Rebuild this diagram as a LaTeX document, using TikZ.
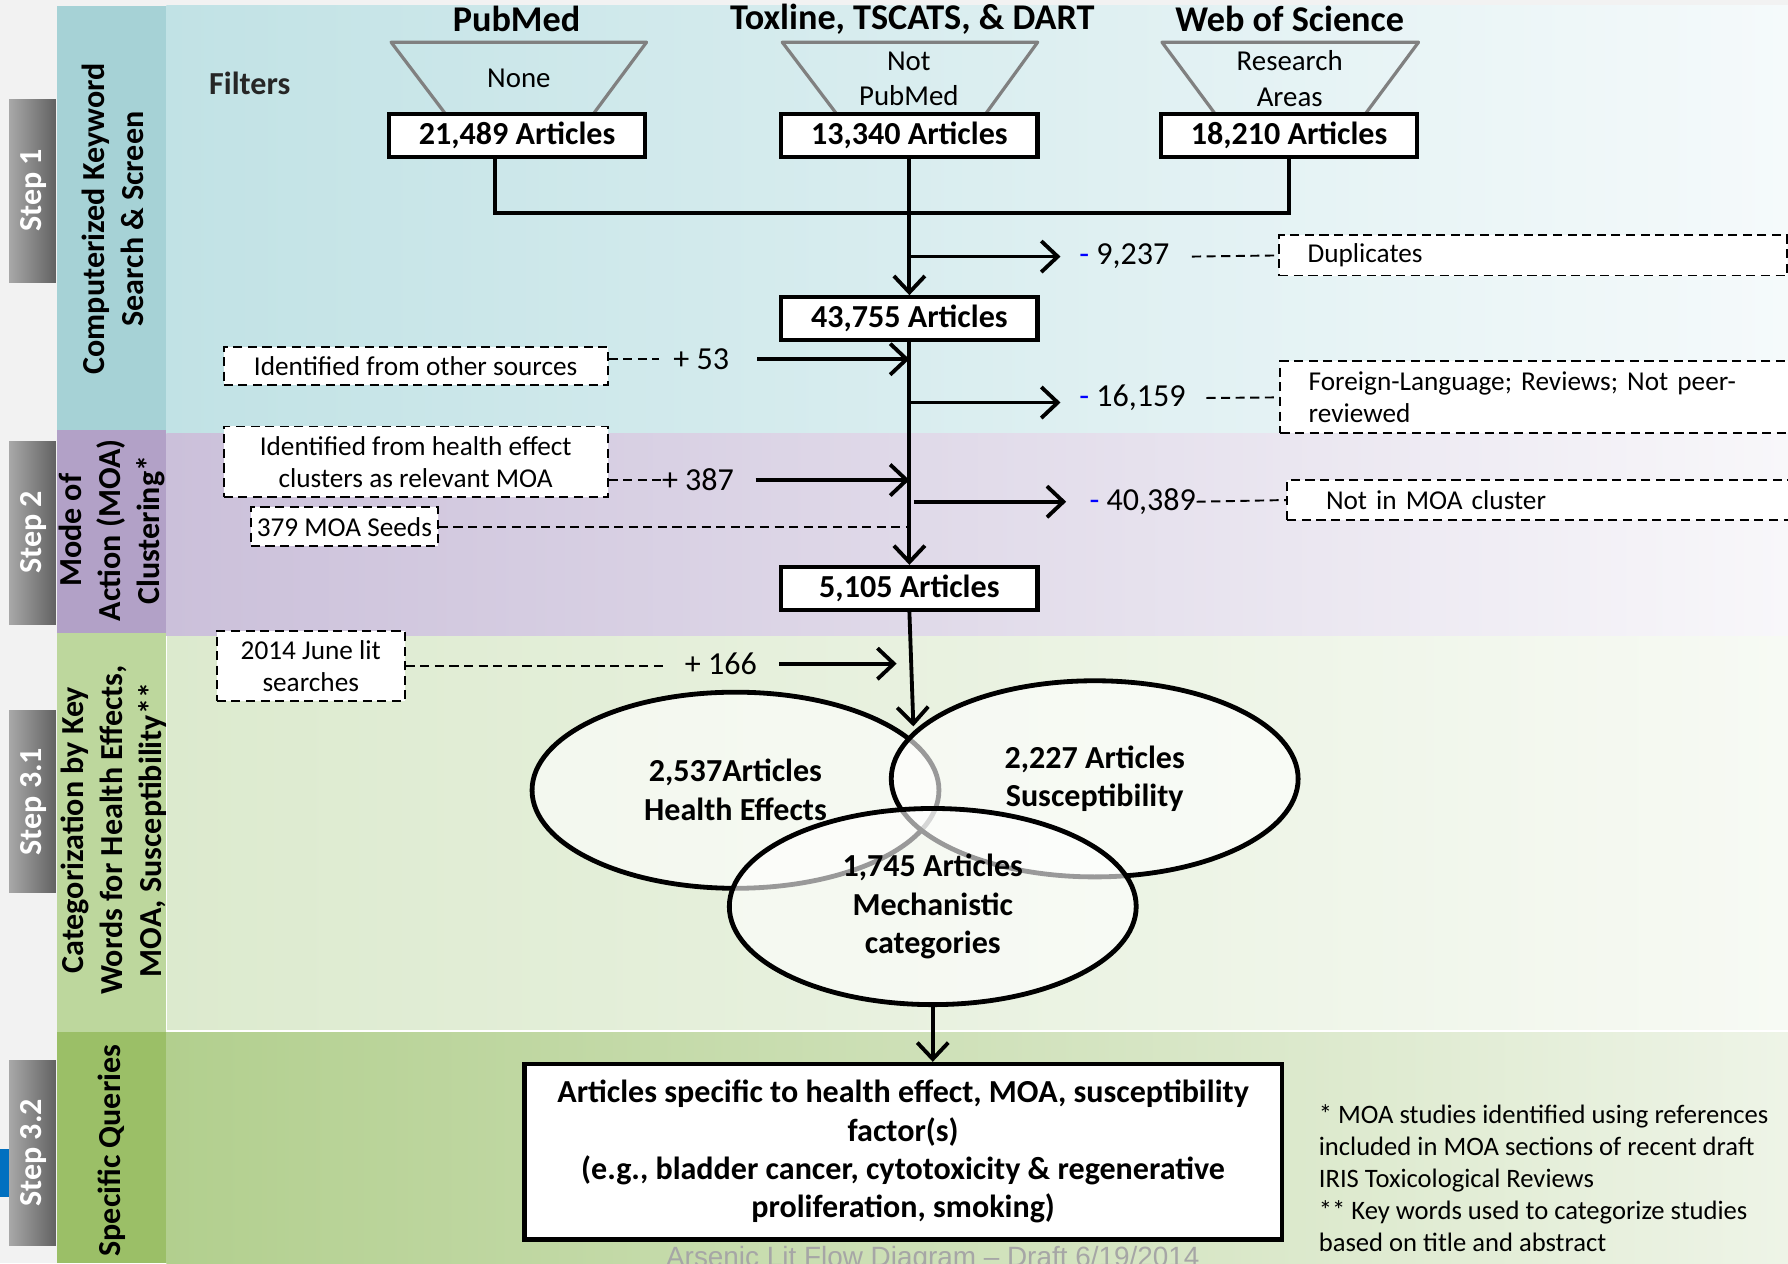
\documentclass[tikz,border=0pt]{standalone}
\usepackage{fontspec}
\setmainfont{Carlito}
\newfontfamily\markfont{Liberation Sans}
\usepackage{xcolor}
\definecolor{PageGrey}{HTML}{F2F2F2}
\definecolor{TealSide}{HTML}{A6D2D6}
\definecolor{TealBand}{HTML}{C1E2E5}
\definecolor{TealFade}{HTML}{F5FAFB}
\definecolor{LilacSide}{HTML}{B2A1C7}
\definecolor{LilacBand}{HTML}{CBC0DA}
\definecolor{LilacFade}{HTML}{F8F7FA}
\definecolor{SageSide}{HTML}{BDD79D}
\definecolor{SageBand}{HTML}{DCEACE}
\definecolor{SageFade}{HTML}{F7FAF4}
\definecolor{MossSide}{HTML}{9BBF67}
\definecolor{MossBand}{HTML}{B2CF8E}
\definecolor{MossFade}{HTML}{EEF4E7}
\definecolor{TabLight}{HTML}{A8A8A8}
\definecolor{TabDark}{HTML}{626262}
\definecolor{FunnelGrey}{HTML}{808080}
\definecolor{SlideBlue}{HTML}{0070C0}
\usepackage{tikz}
\usetikzlibrary{positioning,calc,shapes.geometric,arrows.meta}

\begin{document}
\begin{tikzpicture}[x=0.125mm, y=-0.125mm,
  countbox/.style={draw=black, line width=1.3pt, fill=white, minimum width=28.1mm,
    minimum height=4.7mm, inner sep=0pt, font=\fontsize{10}{12}\selectfont\bfseries},
  notebox/.style={draw=black, dash pattern=on 1mm off 0.6mm, line width=0.6pt, fill=white,
    inner sep=0pt, align=center, font=\fontsize{8.5}{10}\selectfont},
  flow/.style={line width=1.2pt},
  flowto/.style={flow, -{Straight Barb[length=1.8mm,width=3.4mm]}},
  dashline/.style={dash pattern=on 1mm off 0.6mm, line width=0.6pt},
  tally/.style={inner sep=0pt, font=\fontsize{10}{12}\selectfont},
  venn/.style={ellipse, draw=black, line width=1.5pt, fill=white, fill opacity=0.6,
    text opacity=1, minimum width=44.6mm, minimum height=21.5mm, inner sep=0pt,
    align=center, font=\fontsize{10}{12.1}\selectfont\bfseries},
  funnel/.style={draw=FunnelGrey, line width=1pt, line join=round},
  sidelabel/.style={rotate=90, align=center, font=\fontsize{10}{12.1}\selectfont\bfseries},
  steplabel/.style={rotate=90, white, font=\fontsize{10}{12}\selectfont\bfseries},
  srcname/.style={font=\fontsize{11.3}{13}\selectfont\bfseries},
  filtertext/.style={align=center, inner sep=0pt, font=\fontsize{9}{11}\selectfont}]
  \useasboundingbox (0,0) rectangle (1568,1108);
  %% page and bands
  \fill[PageGrey] (0,0) rectangle (1568,1108);
  \fill[TealSide] (50,5) rectangle (146,377);
  \shade[left color=TealBand, right color=TealFade] (146,5) rectangle (1568,380);
  \fill[LilacSide] (50,377) rectangle (146,555);
  \shade[left color=LilacBand, right color=LilacFade] (146,380) rectangle (1568,558);
  \fill[SageSide] (50,555) rectangle (146,905);
  \shade[left color=SageBand, right color=SageFade] (146,558) rectangle (1568,904);
  \fill[MossSide] (50,905) rectangle (146,1108);
  \shade[left color=MossBand, right color=MossFade] (146,905) rectangle (1568,1108);
  \draw[white, line width=0.5pt] (146,558) -- (146,904) -- (1568,904);
  %% step tabs
  \shade[left color=TabLight, right color=TabDark] (8,87) rectangle (49,248);
  \shade[left color=TabLight, right color=TabDark] (8,387) rectangle (49,548);
  \shade[left color=TabLight, right color=TabDark] (8,623) rectangle (49,783);
  \shade[left color=TabLight, right color=TabDark] (8,930) rectangle (49,1092);
  \fill[SlideBlue] (0,1008) rectangle (8,1050);
  \node[steplabel] (st1) at (29,167) {Step 1};
  \node[steplabel] (st2) at (29,467) {Step 2};
  \node[steplabel] (st31) at (29,703) {Step 3.1};
  \node[steplabel] (st32) at (29,1011) {Step 3.2};
  %% band titles
  \node[sidelabel] (lab1) at (99,192) {Computerized Keyword\\Search \& Screen};
  \node[sidelabel] (lab2) at (98,465) {Mode of\\Action (MOA)\\Clustering*};
  \node[sidelabel] (lab31) at (100,728) {Categorization by Key\\Words for Health Effects,\\MOA, Susceptibility**};
  \node[sidelabel] (lab32) at (98,1009) {Specific Queries};

  %% databases
  \node[srcname] (pmname) at (453,17) {PubMed};
  \node[srcname] (toxname) at (800,17) {Toxline, TSCATS, \& DART};
  \node[srcname] (wosname) at (1131,17) {Web of Science};
  \node[black!85, font=\fontsize{10}{12}\selectfont\bfseries] (filt) at (219,73) {Filters};
  \draw[funnel] (390,99) -- (343,37) -- (567,37) -- (521,99);
  \draw[funnel] (733,99) -- (686,37) -- (910,37) -- (865,99);
  \draw[funnel] (1065,99) -- (1019,37) -- (1244,37) -- (1198,99);
  \node[filtertext] (pmf) at (455,69) {None};
  \node[filtertext] (toxf) at (797,69) {Not\\PubMed};
  \node[filtertext] (wosf) at (1131,69) {Research\\Areas};
  \node[countbox] (pm) at (453.5,119) {21,489 Articles};
  \node[countbox] (tox) at (797.5,119) {13,340 Articles};
  \node[countbox] (wos) at (1130.5,119) {18,210 Articles};
  \node[countbox] (a43) at (797.5,279.5) {43,755 Articles};
  \node[countbox] (a51) at (797.5,516) {5,105 Articles};

  %% side notes
  \node[notebox, minimum width=42.1mm, minimum height=4.25mm] (oth) at (364.5,321) {Identified from other sources};
  \node[notebox, minimum width=42.1mm, minimum height=7.75mm] (hmoa) at (364.5,405) {Identified from health effect\\clusters as relevant MOA};
  \node[notebox, minimum width=20.5mm, minimum height=4.25mm] (seeds) at (302,462) {379 MOA Seeds};
  \node[notebox, minimum width=20.6mm, minimum height=7.75mm] (june) at (272.5,584) {2014 June lit\\searches};
  \node[notebox, anchor=west, align=left, text width=49.5mm, inner xsep=3.1mm, minimum height=4.4mm] (dup) at (1121,224) {Duplicates};
  \node[notebox, anchor=west, align=left, text width=49.5mm, inner xsep=3.1mm, minimum height=7.9mm] (frn) at (1122,348.5) {Foreign-Language; Reviews; Not peer-\\reviewed};
  \node[notebox, anchor=west, align=left, text width=50mm, inner xsep=4.25mm, minimum height=4.4mm] (nmoa) at (1128,438.5) {Not in MOA cluster};

  %% counts
  \node[tally, anchor=west] (c9237) at (946,225) {{\color{blue}-} 9,237};
  \node[tally, anchor=west] (c53) at (590,315) {+ 53};
  \node[tally, anchor=west] (c16159) at (946,349) {{\color{blue}-} 16,159};
  \node[tally, anchor=west] (c387) at (580,421) {+ 387};
  \node[tally, anchor=west] (c40389) at (955,440) {{\color{blue}-} 40,389};
  \node[tally, anchor=west] (c166) at (600,582) {+ 166};

  %% venn of categories
  \node[venn] (he) at (645,693) {2,537Articles\\Health Effects};
  \node[venn] (su) at (960,683) {2,227 Articles\\Susceptibility};
  \node[venn] (mech) at (818,795) {1,745 Articles\\Mechanistic\\categories};

  \node[draw=black, line width=1.3pt, fill=white, minimum width=83mm, minimum height=19.25mm,
    inner sep=0pt, align=center, font=\fontsize{10}{12}\selectfont\bfseries] (fin) at (792,1010)
    {Articles specific to health effect, MOA, susceptibility\\factor(s)\\(e.g., bladder cancer, cytotoxicity \& regenerative\\proliferation, smoking)};
  \node[anchor=west, align=left, inner sep=0pt, font=\fontsize{8.3}{10}\selectfont] (foot) at (1156,1033)
    {* MOA studies identified using references\\included in MOA sections of recent draft\\IRIS Toxicological Reviews\\** Key words used to categorize studies\\based on title and abstract};
  \node[anchor=base, inner sep=0pt, text=black!35, font=\markfont\fontsize{8.7}{10}\selectfont] (mark) at (818,1111)
    {Arsenic Lit Flow Diagram – Draft 6/19/2014};

  %% main flow
  \coordinate (merge) at (797.5,187);
  \coordinate (vennin) at (801,637);
  \draw[flow] ([xshift=-2.4mm]pm.south) |- (merge);
  \draw[flow] (wos.south) |- (merge);
  \draw[flowto] (tox.south) -- (a43.north);
  \draw[flowto] (a43.south) -- (a51.north);
  \draw[flowto] (a51.south) -- (vennin);
  \draw[flowto] (mech.south) -- (mech.south |- fin.north);
  %% branches out
  \draw[flowto] (c9237 -| tox.south) -- ([xshift=-2mm]c9237.west);
  \draw[flowto] ([yshift=-0.5mm]c16159 -| a43.south) -- ([xshift=-2mm,yshift=-0.5mm]c16159.west);
  \draw[flowto] ([xshift=0.5mm]c40389 -| a43.south) -- ([xshift=-2.5mm]c40389.west);
  \draw[dashline] ([xshift=2.4mm]c9237.east) -- (dup.west);
  \draw[dashline] ([xshift=2.2mm]c16159.east) -- (frn.west);
  \draw[dashline] (c40389.east) -- (nmoa.west);
  %% branches in
  \draw[flowto] ([xshift=3mm]c53.east) -- (c53 -| a43.south);
  \draw[flowto] ([xshift=2.3mm]c387.east) -- (c387 -| a43.south);
  \draw[flowto] ([xshift=2.4mm]c166.east) -- ([xshift=-1.4mm]c166 -| a51.south);
  \draw[dashline] (oth.east |- c53) -- ([xshift=-1.5mm]c53.west);
  \draw[dashline] (hmoa.east |- c387) -- (c387.west);
  \draw[dashline] (seeds.east) -- (seeds -| a43.south);
  \draw[dashline] (june.east) -- ([xshift=-2.1mm]june.east -| c166.west);
\end{tikzpicture}
\end{document}
